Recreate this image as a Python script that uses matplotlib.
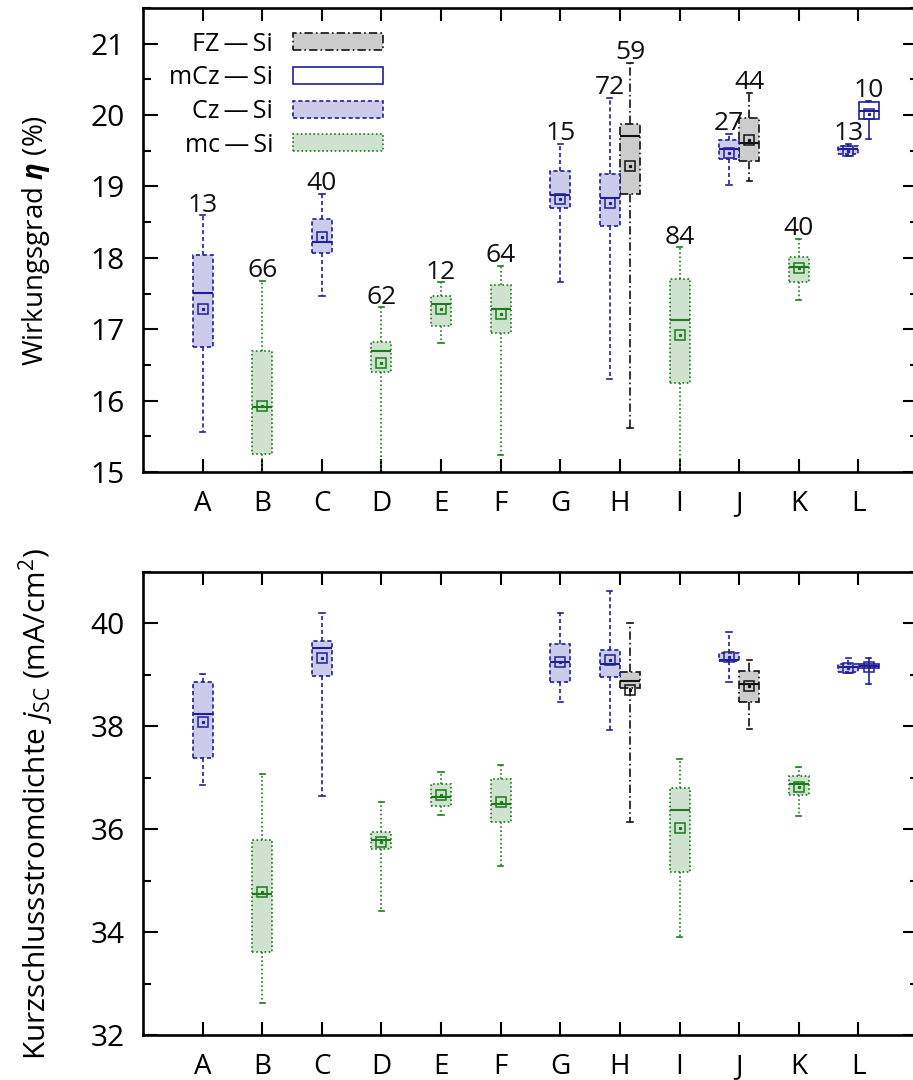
import matplotlib
matplotlib.use("Agg")
import matplotlib.pyplot as plt
from matplotlib.patches import Patch
from matplotlib.ticker import MultipleLocator

plt.rcParams['font.family'] = ['Open Sans', 'DejaVu Sans']
plt.rcParams['mathtext.fontset'] = 'custom'
plt.rcParams['mathtext.rm'] = 'Open Sans'
plt.rcParams['mathtext.it'] = 'Open Sans:italic'
plt.rcParams['mathtext.bf'] = 'Open Sans:bold:italic'
plt.rcParams['lines.scale_dashes'] = False

# ---- data -------------------------------------------------------------
categories = ['A', 'B', 'C', 'D', 'E', 'F', 'G', 'H', 'I', 'J', 'K', 'L']
box_category = ['A', 'B', 'C', 'D', 'E', 'F', 'G', 'H', 'H', 'I', 'J', 'J', 'K', 'L', 'L']
box_material = ['Cz', 'mc', 'Cz', 'mc', 'mc', 'mc', 'Cz', 'Cz', 'FZ', 'mc', 'Cz', 'FZ', 'mc', 'Cz', 'mCz']
sample_count = [13, 66, 40, 62, 12, 64, 15, 72, 59, 84, 27, 44, 40, 13, 10]

# efficiency (%)
eta_low = [15.56, 14.80, 17.47, 14.80, 16.81, 15.24, 17.66, 16.30, 15.62, 14.80, 19.02, 19.07, 17.41, 19.43, 19.67]
eta_q1 = [16.75, 15.25, 18.07, 16.40, 17.04, 16.95, 18.70, 18.44, 18.90, 16.25, 19.39, 19.36, 17.66, 19.46, 19.95]
eta_med = [17.51, 15.91, 18.22, 16.70, 17.36, 17.29, 18.88, 18.84, 19.70, 17.13, 19.53, 19.61, 17.87, 19.53, 20.06]
eta_mean = [17.29, 15.93, 18.29, 16.53, 17.29, 17.22, 18.83, 18.77, 19.29, 16.92, 19.47, 19.65, 17.86, 19.50, 20.02]
eta_q3 = [18.04, 16.70, 18.55, 16.82, 17.47, 17.62, 19.21, 19.18, 19.88, 17.71, 19.65, 19.96, 18.01, 19.56, 20.18]
eta_high = [18.60, 17.68, 18.90, 17.31, 17.66, 17.89, 19.60, 20.24, 20.73, 18.15, 19.74, 20.31, 18.27, 19.60, 20.20]

# short-circuit current density (mA/cm^2)
jsc_low = [36.85, 32.63, 36.64, 34.41, 36.27, 35.28, 38.48, 37.93, 36.15, 33.91, 38.86, 37.95, 36.25, 39.03, 38.82]
jsc_q1 = [37.39, 33.62, 38.98, 35.61, 36.45, 36.14, 38.86, 38.96, 38.75, 35.17, 39.27, 38.48, 36.66, 39.06, 39.13]
jsc_med = [38.24, 34.74, 39.52, 35.79, 36.62, 36.50, 39.25, 39.21, 38.88, 36.37, 39.29, 38.82, 36.87, 39.15, 39.17]
jsc_mean = [38.09, 34.78, 39.33, 35.75, 36.66, 36.52, 39.25, 39.29, 38.71, 36.02, 39.35, 38.78, 36.83, 39.14, 39.15]
jsc_q3 = [38.86, 35.79, 39.66, 35.94, 36.87, 36.97, 39.60, 39.48, 39.06, 36.81, 39.42, 39.08, 37.03, 39.21, 39.21]
jsc_high = [39.02, 37.08, 40.20, 36.52, 37.12, 37.24, 40.20, 40.64, 40.00, 37.37, 39.83, 39.29, 37.20, 39.33, 39.33]

legend_order = ['FZ', 'mCz', 'Cz', 'mc']
legend_labels = ['FZ\u2009\u2014\u2009Si', 'mCz\u2009\u2014\u2009Si',
                 'Cz\u2009\u2014\u2009Si', 'mc\u2009\u2014\u2009Si']

# ---- styles -----------------------------------------------------------
BLUE = '#1f1f99'
GREEN = '#1c7a1c'
STYLE = {
    'FZ': dict(face='#cccccc', edge='#111111', ls=(0, (6, 2.2, 1.2, 2.2))),
    'mCz': dict(face='white', edge=BLUE, ls='-'),
    'Cz': dict(face='#ccccea', edge=BLUE, ls=(0, (3, 2))),
    'mc': dict(face='#cfe2cf', edge=GREEN, ls=(0, (1.2, 1.8))),
}
BOX_W = 0.335
LW = 1.2

# positions: categories with two boxes are split left/right of the tick
cat_x = {c: i + 1 for i, c in enumerate(categories)}
positions = []
for i, c in enumerate(box_category):
    members = [j for j, cc in enumerate(box_category) if cc == c]
    if len(members) == 1:
        positions.append(cat_x[c])
    else:
        positions.append(cat_x[c] + (-0.17 if members.index(i) == 0 else 0.17))


def draw_boxes(ax, low, q1, med, mean, q3, high):
    for mat in legend_order:
        idx = [i for i, m in enumerate(box_material) if m == mat]
        st = STYLE[mat]
        stats = [dict(whislo=low[i], q1=q1[i], med=med[i], mean=mean[i],
                      q3=q3[i], whishi=high[i], fliers=[]) for i in idx]
        pos = [positions[i] for i in idx]
        ax.bxp(stats, positions=pos, widths=BOX_W, capwidths=0.09,
               patch_artist=True, showmeans=True, manage_ticks=False,
               boxprops=dict(facecolor=st['face'], edgecolor=st['edge'],
                             linestyle=st['ls'], linewidth=LW),
               whiskerprops=dict(color=st['edge'], linestyle=st['ls'], linewidth=LW),
               capprops=dict(color=st['edge'], linestyle='-', linewidth=LW),
               medianprops=dict(color=st['edge'], linestyle='-', linewidth=1.5),
               meanprops=dict(marker='s', markerfacecolor='none',
                              markeredgecolor=st['edge'], markersize=7,
                              markeredgewidth=1.1))
        ax.plot(pos, [mean[i] for i in idx], ls='none', marker='s',
                ms=1.3, color=st['edge'], zorder=5)


def style_axes(ax, ymin, ymax, major, minor):
    ax.set_xlim(0, 13)
    ax.set_ylim(ymin, ymax)
    ax.set_xticks(range(1, 13))
    ax.set_xticklabels(categories)
    ax.yaxis.set_major_locator(MultipleLocator(major))
    ax.yaxis.set_minor_locator(MultipleLocator(minor))
    for s in ax.spines.values():
        s.set_linewidth(1.9)
    ax.tick_params(axis='x', which='major', direction='in', top=True, bottom=True,
                   length=9.4, width=1.5, pad=13, labelsize=20)
    ax.tick_params(axis='y', which='major', direction='in', left=True, right=True,
                   length=10.8, width=1.5, pad=13, labelsize=21.5)
    ax.tick_params(axis='y', which='minor', direction='in', left=True, right=True,
                   length=5.8, width=1.5)


fig = plt.figure(figsize=(9.13, 10.8), dpi=100)
ax_w = (918 - 143) / 913
ax1 = fig.add_axes([143 / 913, 1 - 472 / 1080, ax_w, (472 - 8) / 1080])
ax2 = fig.add_axes([143 / 913, 1 - 1035 / 1080, ax_w, (1035 - 572) / 1080])

# efficiency panel
draw_boxes(ax1, eta_low, eta_q1, eta_med, eta_mean, eta_q3, eta_high)
style_axes(ax1, 15, 21.5, 1, 0.5)
for p, h, n in zip(positions, eta_high, sample_count):
    ax1.annotate(str(n), (p, h), xytext=(0, 2.5), textcoords='offset points',
                 ha='center', va='baseline', fontsize=19, color='#111111')
ax1.set_ylabel(r'Wirkungsgrad $\mathbf{\eta}$ (%)', fontsize=20, labelpad=28)

handles = [Patch(facecolor=STYLE[m]['face'], edgecolor=STYLE[m]['edge'],
                 linestyle=STYLE[m]['ls'], linewidth=LW) for m in legend_order]
ax1.legend(handles, legend_labels, loc='upper right', bbox_to_anchor=(0.3097, 0.949),
           frameon=False, markerfirst=False, fontsize=18, handlelength=3.6,
           handleheight=0.68, handletextpad=0.8, labelspacing=0.345, borderpad=0,
           borderaxespad=0)

# short-circuit current panel
draw_boxes(ax2, jsc_low, jsc_q1, jsc_med, jsc_mean, jsc_q3, jsc_high)
style_axes(ax2, 32, 41, 2, 1)
ax2.set_ylabel(r'Kurzschlussstromdichte $j_{\mathrm{SC}}$ (mA/cm$^{2}$)',
               fontsize=21.5, labelpad=25)

fig.savefig('out.png', dpi=100)
